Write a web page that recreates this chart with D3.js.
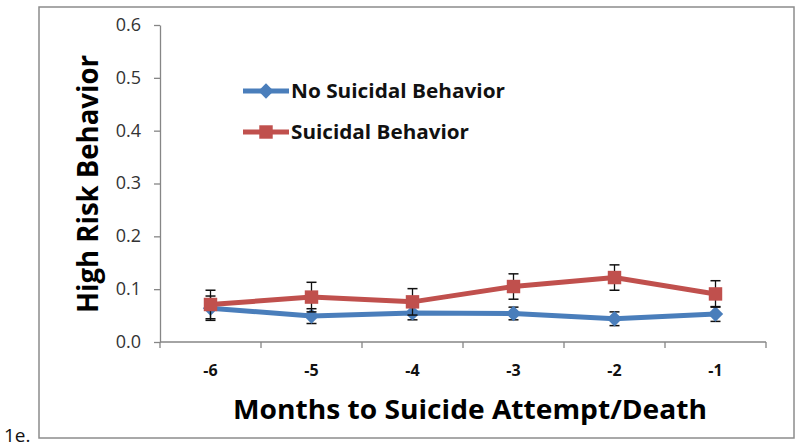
<!DOCTYPE html>
<html>
  <head>
      <script type="text/javascript" src="https://cdn.jsdelivr.net/npm/d3@7"></script>
      <style>
        body { margin: 0; background: #fff; }
        text { font-family: "Open Sans", "Liberation Sans", sans-serif; }
      </style>
  </head>
  <body>
      <svg width="800" height="448"></svg>
      <script>
          // months before attempt / death
          var months = ['-6', '-5', '-4', '-3', '-2', '-1']
          var noSuicidal = [0.064, 0.049, 0.055, 0.054, 0.044, 0.053]
          var noSuicidalErr = [0.023, 0.014, 0.013, 0.012, 0.013, 0.014]
          var suicidal = [0.071, 0.085, 0.076, 0.105, 0.122, 0.091]
          var suicidalErr = [0.027, 0.028, 0.025, 0.024, 0.024, 0.025]
          var yTicks = [0, 0.1, 0.2, 0.3, 0.4, 0.5, 0.6]

          var svg = d3.select('svg')

          // outer frame
          svg.append('rect')
             .attr('x', 39).attr('y', 7)
             .attr('width', 755).attr('height', 431)
             .attr('fill', 'none')
             .attr('stroke', '#8c8c8c')
             .attr('stroke-width', 1.5)

          svg.append('text')
             .attr('x', 4).attr('y', 442)
             .attr('font-size', 19)
             .attr('fill', '#111')
             .text('1e.')

          var x = d3.scaleBand().domain(months).range([160, 766])
          var y = d3.scaleLinear().domain([0, 0.6]).range([342, 25])
          var cx = function(d){ return x(d) + x.bandwidth()/2 }

          // y axis
          var yAxis = svg.append('g')
             .attr('transform', 'translate(160,0)')
             .attr('font-size', 18)
             .call(d3.axisLeft(y).tickValues(yTicks).tickFormat(d3.format('.1f')).tickSize(6).tickSizeOuter(0))
          yAxis.attr('font-size', 18).attr('font-family', '"Open Sans", sans-serif')
          yAxis.select('.domain').attr('stroke', '#868686').attr('stroke-width', 1.3)
          yAxis.selectAll('.tick line').attr('stroke', '#868686').attr('stroke-width', 1.3)
          yAxis.selectAll('.tick text')
             .attr('font-size', 18).attr('fill', '#333').attr('x', -19).attr('dy', '0.3em')

          // x axis, ticks at band edges
          var xg = svg.append('g').attr('transform', 'translate(0,342)')
          xg.append('line')
             .attr('x1', 160).attr('x2', 766)
             .attr('stroke', '#868686').attr('stroke-width', 1.3)
          xg.selectAll('line.tk')
             .data(months.concat(['end']))
             .enter().append('line')
             .attr('class', 'tk')
             .attr('x1', function(d,i){ return 160 + i*x.step() })
             .attr('x2', function(d,i){ return 160 + i*x.step() })
             .attr('y1', 0).attr('y2', 6)
             .attr('stroke', '#868686').attr('stroke-width', 1.3)
          xg.selectAll('text')
             .data(months)
             .enter().append('text')
             .attr('x', cx)
             .attr('y', 34)
             .attr('text-anchor', 'middle')
             .attr('font-size', 16)
             .attr('font-weight', 'bold')
             .attr('fill', '#111')
             .text(function(d){ return d })

          // titles
          svg.append('text')
             .attr('transform', 'translate(98,184) rotate(-90)')
             .attr('text-anchor', 'middle')
             .attr('font-size', 29)
             .attr('font-weight', 'bold')
             .attr('textLength', 258)
             .attr('lengthAdjust', 'spacingAndGlyphs')
             .text('High Risk Behavior')

          svg.append('text')
             .attr('x', 470).attr('y', 419)
             .attr('text-anchor', 'middle')
             .attr('font-size', 27)
             .attr('font-weight', 'bold')
             .attr('textLength', 474)
             .attr('lengthAdjust', 'spacingAndGlyphs')
             .text('Months to Suicide Attempt/Death')

          var series = [
              {name: 'No Suicidal Behavior', values: noSuicidal, err: noSuicidalErr, color: '#4a7ebb', shape: 'diamond'},
              {name: 'Suicidal Behavior', values: suicidal, err: suicidalErr, color: '#c0504d', shape: 'square'}
          ]

          var line = d3.line()
             .x(function(d){ return cx(d.m) })
             .y(function(d){ return y(d.v) })

          var symbolFor = function(s){
              return s.shape == 'diamond'
                 ? d3.symbol().type(d3.symbolDiamond2).size(150)()
                 : d3.symbol().type(d3.symbolSquare2).size(230)()
          }

          series.forEach(function(s){
              var pts = months.map(function(m,i){ return {m: m, v: s.values[i], e: s.err[i]} })

              svg.append('path')
                 .datum(pts)
                 .attr('d', line)
                 .attr('fill', 'none')
                 .attr('stroke', s.color)
                 .attr('stroke-width', 5)

              // error bars
              var eb = svg.append('g').selectAll('g')
                 .data(pts).enter().append('g')
              eb.append('line')
                 .attr('x1', function(d){ return cx(d.m) })
                 .attr('x2', function(d){ return cx(d.m) })
                 .attr('y1', function(d){ return y(d.v + d.e) })
                 .attr('y2', function(d){ return y(d.v - d.e) })
                 .attr('stroke', '#111').attr('stroke-width', 1.3)
              ;[1, -1].forEach(function(sg){
                  eb.append('line')
                     .attr('x1', function(d){ return cx(d.m) - 5 })
                     .attr('x2', function(d){ return cx(d.m) + 5 })
                     .attr('y1', function(d){ return y(d.v + sg*d.e) })
                     .attr('y2', function(d){ return y(d.v + sg*d.e) })
                     .attr('stroke', '#111').attr('stroke-width', 1.5)
              })

              svg.append('g').selectAll('path')
                 .data(pts).enter().append('path')
                 .attr('d', symbolFor(s))
                 .attr('transform', function(d){ return 'translate(' + cx(d.m) + ',' + y(d.v) + ')' })
                 .attr('fill', s.color)
          })

          // legend
          var lg = svg.append('g').selectAll('g')
             .data(series).enter().append('g')
             .attr('transform', function(d,i){ return 'translate(243,' + (91 + i*41) + ')' })
          lg.append('line')
             .attr('x1', 0).attr('x2', 46)
             .attr('stroke', function(d){ return d.color })
             .attr('stroke-width', 5)
          lg.append('path')
             .attr('d', symbolFor)
             .attr('transform', 'translate(23,0)')
             .attr('fill', function(d){ return d.color })
          lg.append('text')
             .attr('x', 48).attr('y', 7)
             .attr('font-size', 19)
             .attr('font-weight', 'bold')
             .attr('fill', '#111')
             .attr('textLength', function(d,i){ return i == 0 ? 214 : 178 })
             .attr('lengthAdjust', 'spacingAndGlyphs')
             .text(function(d){ return d.name })
      </script>
  </body>
</html>
